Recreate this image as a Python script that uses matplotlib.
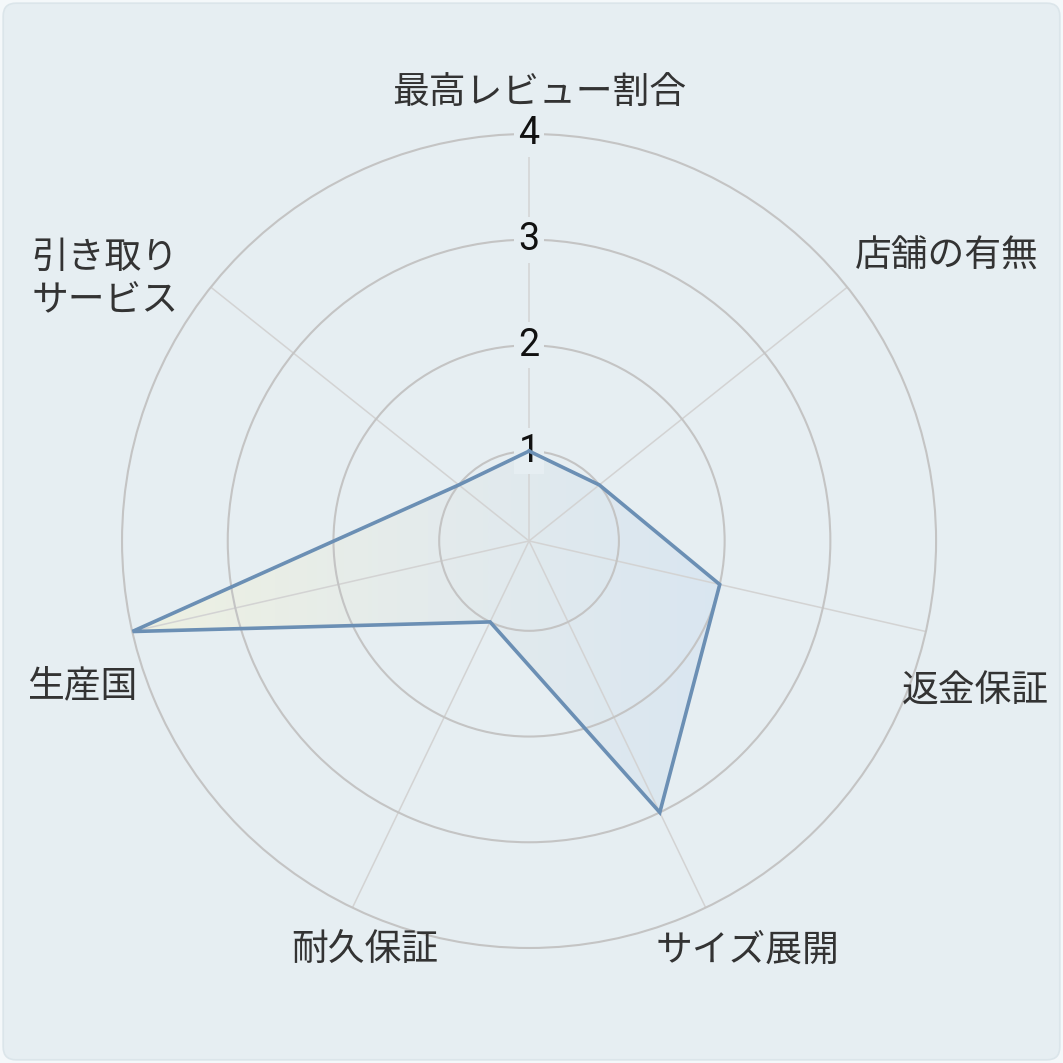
import numpy as np
import matplotlib
matplotlib.use("Agg")
import matplotlib.pyplot as plt
from matplotlib.patches import FancyBboxPatch
from matplotlib.colors import LinearSegmentedColormap

# chart data
categories = ["最高レビュー割合", "店舗の有無", "返金保証", "サイズ展開",
              "耐久保証", "生産国", "引き取り\nサービス"]
values = [1, 1, 2, 3, 1, 4, 1]
ticks = [1, 2, 3, 4]

bg = "#e6eef2"
line_col = "#6b8fb4"
text_col = "#333333"

fig = plt.figure(figsize=(10.63, 10.63), dpi=100, facecolor="#f4f8fa")
fig.patches.append(FancyBboxPatch((0.003, 0.003), 0.994, 0.994,
                                  boxstyle="round,pad=0,rounding_size=0.012",
                                  transform=fig.transFigure, facecolor=bg,
                                  edgecolor="#dbe5ea", linewidth=1.2, zorder=0))

rect = [0.1148, 0.1082, 0.7658, 0.7658]

# gradient fill lives in a plain axes under the polar one
ax_g = fig.add_axes(rect, zorder=1)
ax_g.set_xlim(0, 1)
ax_g.set_ylim(0, 1)
ax_g.axis("off")
ax_g.patch.set_alpha(0)

ax = fig.add_axes(rect, projection="polar", zorder=2)
ax.patch.set_alpha(0)
ax.set_theta_zero_location("N")
ax.set_theta_direction(-1)
ax.set_ylim(0.15, 4)

n = len(categories)
angles = np.arange(n) * 2 * np.pi / n
ax.set_thetagrids(np.degrees(angles), labels=[""] * n)
ax.set_rgrids(ticks, labels=[""] * len(ticks))
ax.spines["polar"].set_visible(False)
ax.xaxis.grid(True, color="#d3d3d3", linewidth=1.1)
ax.yaxis.grid(True, color="#c4c4c4", linewidth=1.5)
for gl in ax.yaxis.get_gridlines():
    gl.set_clip_on(False)

th = np.append(angles, angles[0])
vv = np.append(values, values[0])
poly = ax.fill(th, vv, facecolor="none", edgecolor="none")[0]
ax.plot(th, vv, color=line_col, linewidth=2.6, zorder=5, solid_joinstyle="miter")

cmap = LinearSegmentedColormap.from_list("g", ["#eef1e1", "#e4ebec", "#d9e6f1"])
grad = np.clip(np.linspace(0, 1, 400) / 0.75, 0, 1)[None, :]
im = ax_g.imshow(grad, extent=[0, 1, 0, 1], aspect="auto", cmap=cmap,
                 vmin=0, vmax=1, origin="lower")
im.set_clip_path(poly)

# radial tick labels
for t in ticks:
    ax.text(0, t, str(t), ha="center", va="center", fontsize=27,
            family=["Roboto", "DejaVu Sans"], color="#111111", zorder=4,
            bbox=dict(boxstyle="square,pad=0.12", facecolor=bg, edgecolor="none"))

# category labels, offsets from the outer end of each spoke (pixels)
offsets = [(10, 41), (100, 31), (49, -60), (42, -43), (12, -43), (-50, -54), (-106, 8)]
for ang, lab, (dx, dy) in zip(angles, categories, offsets):
    ax.annotate(lab, xy=(ang, 4), xytext=(dx, dy), textcoords="offset pixels",
                ha="center", va="center", fontsize=26.5, color=text_col,
                family=["Noto Sans CJK JP", "DejaVu Sans"], linespacing=1.15,
                annotation_clip=False)

fig.savefig("out.png", dpi=100, facecolor=fig.get_facecolor())
